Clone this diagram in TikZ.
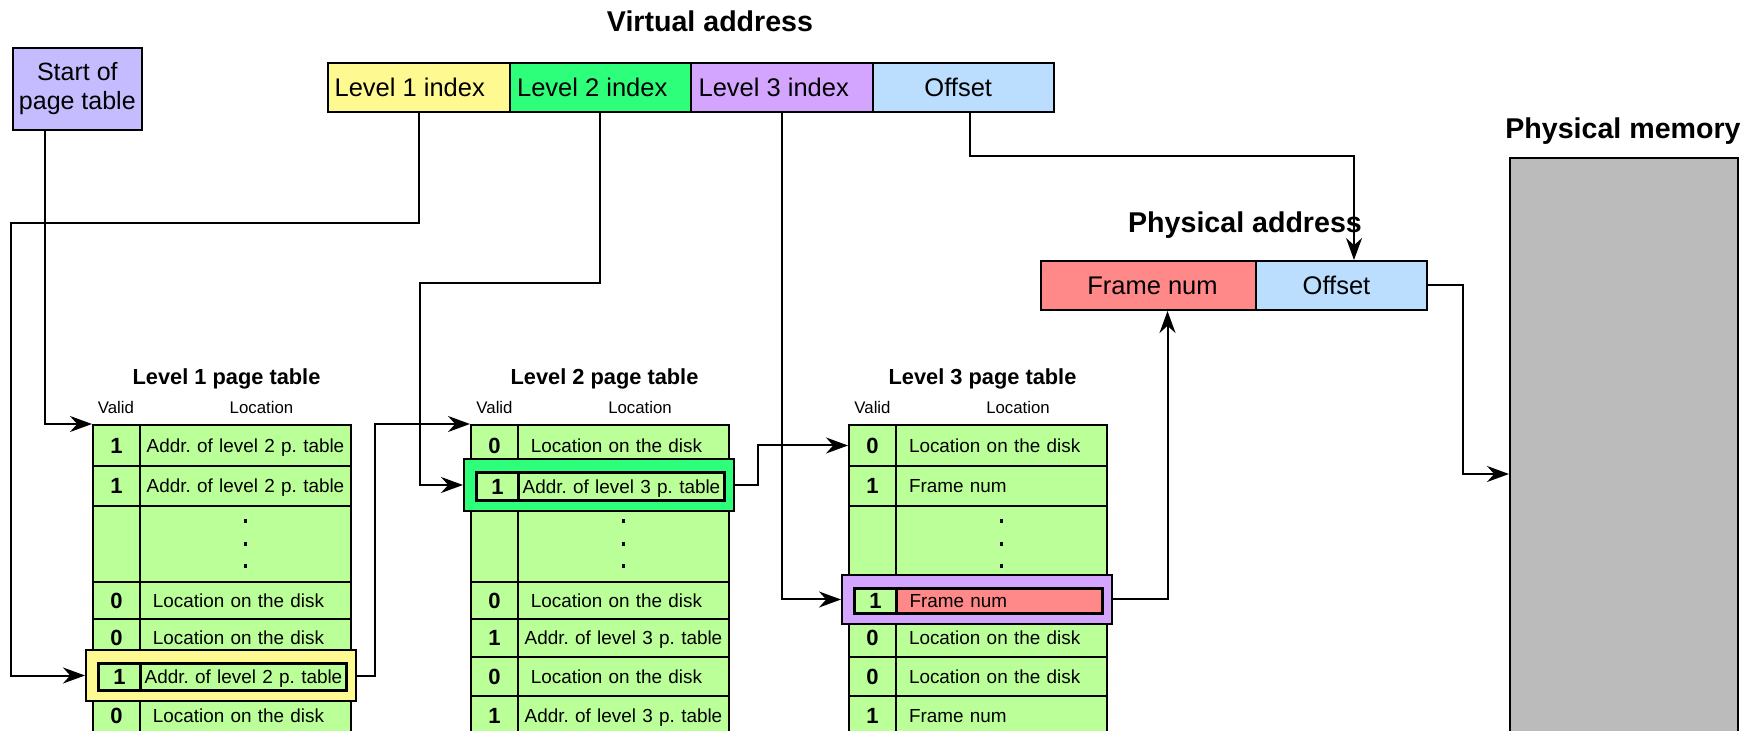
\documentclass[tikz,border=0pt]{standalone}
\usepackage{fontspec}
\setmainfont{Liberation Sans}
\usetikzlibrary{arrows.meta,calc}
\frenchspacing

\definecolor{startc}{RGB}{196,188,255}
\definecolor{lvlone}{RGB}{255,249,145}
\definecolor{lvltwo}{RGB}{46,255,122}
\definecolor{lvlthree}{RGB}{212,165,255}
\definecolor{offc}{RGB}{187,222,255}
\definecolor{framec}{RGB}{255,136,136}
\definecolor{tabc}{RGB}{187,255,153}
\definecolor{memc}{RGB}{187,187,187}

% one ordinary table row: name, left x, top y, bottom y, valid bit, location text, text alignment
\newcommand\ptrow[7]{%
  \pgfmathsetmacro\rowh{(#4-#3)/2}%
  \node[vcell, minimum height=\rowh pt] (#1v) at (#2,#3) {#5};
  \node[lcell, minimum height=\rowh pt, #7] (#1l) at (#2+47,#3) {#6};
}
% the row of vertical dots
\newcommand\dotrow[4]{%
  \pgfmathsetmacro\rowh{(#4-#3)/2}%
  \node[vcell, minimum height=\rowh pt] (#1v) at (#2,#3) {};
  \node[lcell, minimum height=\rowh pt] (#1l) at (#2+47,#3) {};
  \foreach \dy in {-23,0,22} \fill ($(#1l.center)+(0,\dy)$) ++(-1.8,-1.8) rectangle ++(3.6,3.6);
}
% the selected row: name, left x, top y, bottom y, frame colour, valid bit, text, text fill, alignment
\newcommand\hlrow[9]{%
  \pgfmathsetmacro\hlo{(#4-#3+12)/2}%
  \pgfmathsetmacro\hli{(#4-#3-12)/2}%
  \node[hlbox, fill=#5, minimum height=\hlo pt] (#1) at (#2+129,{(#3+#4)/2}) {};
  \node[hlv, minimum height=\hli pt] (#1v) at (#2+5,#3+6) {#6};
  \node[hll, fill=#8, minimum height=\hli pt, #9] (#1l) at (#2+47,#3+6) {#7};
}
% disk location entry, set a little left of centre
\newcommand\diskloc{\kern-7pt Location on the disk}

\begin{document}
\begin{tikzpicture}[x=0.5pt,y=-0.5pt,
  conn/.style={line width=1pt, -{Stealth[length=11pt,width=8pt]}},
  ttl/.style={font=\bfseries\fontsize{14.3}{17}\selectfont, anchor=base, inner sep=0pt},
  tabttl/.style={font=\bfseries\fontsize{10.9}{13}\selectfont, anchor=base, inner sep=0pt},
  colhd/.style={font=\fontsize{8.4}{10}\selectfont, anchor=base, inner sep=0pt},
  field/.style={draw, line width=1pt, inner sep=0pt, minimum height=24.5pt,
    font=\fontsize{12.75}{15}\selectfont, text height=9.1pt, text depth=0pt},
  vcell/.style={draw, line width=1pt, fill=tabc, anchor=north west, inner sep=0pt,
    minimum width=23.5pt, font=\bfseries\fontsize{11}{13}\selectfont,
    text height=7.9pt, text depth=0pt},
  lcell/.style={draw, line width=1pt, fill=tabc, anchor=north west, inner sep=0pt,
    minimum width=105.5pt, font=\fontsize{9.45}{11}\selectfont,
    text height=6.8pt, text depth=0pt},
  calign/.style={text width=105.5pt, align=center},
  lalign/.style={text width=92.5pt, inner xsep=6.5pt, align=left},
  hlbox/.style={draw, line width=1pt, inner sep=0pt, minimum width=135pt},
  hlv/.style={vcell, line width=1.5pt, minimum width=21pt},
  hll/.style={lcell, line width=1.5pt, minimum width=103pt},
  hcalign/.style={text width=103pt, align=center},
  hlalign/.style={text width=90pt, inner xsep=6.5pt, align=left}]

\useasboundingbox (0,0) rectangle (1756,731);
\clip (0,0) rectangle (1756,731);

% titles
\node[ttl] (vat) at (710,32) {Virtual address};
\node[ttl] (pat) at (1245,233) {Physical address};
\node[ttl] (pmt) at (1623,139) {Physical memory};

% start of page table register
\node[draw, line width=1pt, fill=startc, inner sep=0pt, minimum width=64.65pt,
  minimum height=41.35pt, align=center, font=\fontsize{12.5}{14.5}\selectfont]
  (start) at (77.35,89) {Start of\\page table};

% virtual address fields
\node[field, fill=lvlone, minimum width=90.75pt] (l1) at (418.75,87.5) {\kern-9pt Level 1 index};
\node[field, fill=lvltwo, minimum width=90.75pt] (l2) at (600.25,87.5) {\kern-8pt Level 2 index};
\node[field, fill=lvlthree, minimum width=90.75pt] (l3) at (781.75,87.5) {\kern-8pt Level 3 index};
\node[field, fill=offc, minimum width=90.75pt] (off) at (963.25,87.5) {\kern-5pt Offset};

% physical address fields
\node[field, fill=framec, minimum width=107.5pt] (pfn) at (1148.5,285.5) {\kern4pt Frame num};
\node[field, fill=offc, minimum width=85.5pt] (poff) at (1341.5,285.5) {\kern-5pt Offset};

% physical memory
\node[draw, line width=1pt, fill=memc, anchor=north west, inner sep=0pt,
  minimum width=114pt, minimum height=310pt] (mem) at (1509,157) {};

% level 1 page table
\node[tabttl] (ta) at (226.5,385) {Level 1 page table};
\node[colhd] (tav) at (116,414) {Valid};
\node[colhd] (tal) at (261.5,414) {Location};
\ptrow{ar1}{92}{424}{465}{1}{Addr. of level 2 p. table}{calign}
\ptrow{ar2}{92}{465}{505}{1}{Addr. of level 2 p. table}{calign}
\dotrow{ar3}{92}{505}{581}
\ptrow{ar4}{92}{581}{618}{0}{\diskloc}{calign}
\ptrow{ar5}{92}{618}{656}{0}{\diskloc}{calign}
\ptrow{ar7}{92}{695}{735}{0}{\diskloc}{calign}
\hlrow{ah}{92}{656}{695}{lvlone}{1}{Addr. of level 2 p. table}{tabc}{hcalign}

% level 2 page table
\node[tabttl] (tb) at (604.5,385) {Level 2 page table};
\node[colhd] (tbv) at (494.5,414) {Valid};
\node[colhd] (tbl) at (640,414) {Location};
\ptrow{br1}{470}{424}{465}{0}{\diskloc}{calign}
\dotrow{br3}{470}{505}{581}
\ptrow{br4}{470}{581}{618}{0}{\diskloc}{calign}
\ptrow{br5}{470}{618}{656}{1}{Addr. of level 3 p. table}{calign}
\ptrow{br6}{470}{656}{695}{0}{\diskloc}{calign}
\ptrow{br7}{470}{695}{735}{1}{Addr. of level 3 p. table}{calign}
\hlrow{bh}{470}{465}{505}{lvltwo}{1}{Addr. of level 3 p. table}{tabc}{hcalign}

% level 3 page table
\node[tabttl] (tc) at (982.5,385) {Level 3 page table};
\node[colhd] (tcv) at (872.5,414) {Valid};
\node[colhd] (tcl) at (1018,414) {Location};
\ptrow{cr1}{848}{424}{465}{0}{Location on the disk}{lalign}
\ptrow{cr2}{848}{465}{505}{1}{Frame num}{lalign}
\dotrow{cr3}{848}{505}{581}
\ptrow{cr5}{848}{618}{656}{0}{Location on the disk}{lalign}
\ptrow{cr6}{848}{656}{695}{0}{Location on the disk}{lalign}
\ptrow{cr7}{848}{695}{735}{1}{Frame num}{lalign}
\hlrow{ch}{848}{581}{618}{lvlthree}{1}{Frame num}{framec}{hlalign}

% connectors
\coordinate (w1) at (11,223);
\coordinate (w2) at (420,283);
\coordinate (w3) at (1354,156);
\coordinate (w4) at (1463,474);
\draw[conn] ([xshift=16.65pt]start.south west) |- (ar1v.north west);
\draw[conn] (l1.south) |- (w1) |- (ah.west);
\draw[conn] (ah.east) -- ++(18,0) |- (br1v.north west);
\draw[conn] (l2.south) |- (w2) |- (bh.west);
\draw[conn] (bh.east) -- ++(23,0) |- (cr1v.west);
\draw[conn] (l3.south) |- (ch.west);
\draw[conn] (ch.east) -| ([xshift=9.5pt]pfn.south);
\draw[conn] ([xshift=3.5pt]off.south) |- (w3) -- (w3 |- poff.north);
\draw[conn] (poff.east) -| (w4) -- (w4 -| mem.west);
\end{tikzpicture}
\end{document}
